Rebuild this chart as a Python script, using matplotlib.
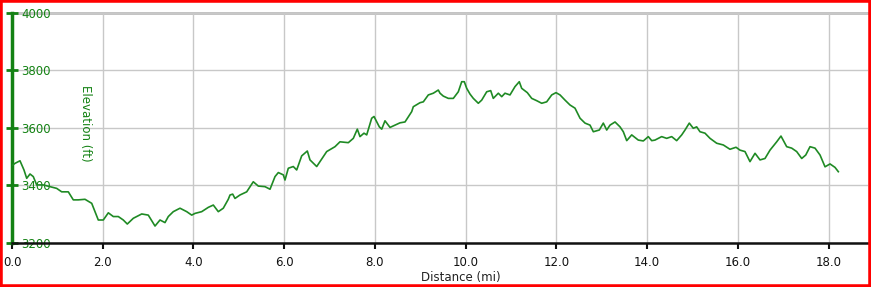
import matplotlib
matplotlib.use("Agg")
import matplotlib.pyplot as plt
from matplotlib.patches import Rectangle

# elevation profile
dist_mi = [0.015, 0.066, 0.176, 0.264, 0.324, 0.397, 0.469, 0.544, 0.690, 0.838, 0.985,
           1.095, 1.241, 1.351, 1.461, 1.609, 1.757, 1.902, 2.012, 2.123, 2.233, 2.343,
           2.453, 2.541, 2.674, 2.859, 3.004, 3.152, 3.262, 3.372, 3.445, 3.555, 3.703,
           3.851, 3.961, 4.034, 4.181, 4.327, 4.437, 4.547, 4.657, 4.767, 4.805, 4.864,
           4.915, 5.025, 5.173, 5.318, 5.429, 5.576, 5.687, 5.797, 5.870, 5.980, 6.017,
           6.090, 6.200, 6.275, 6.385, 6.509, 6.568, 6.716, 6.936, 7.119, 7.229, 7.413,
           7.523, 7.611, 7.670, 7.758, 7.818, 7.928, 7.979, 8.096, 8.149, 8.221, 8.332,
           8.442, 8.552, 8.662, 8.810, 8.845, 8.993, 9.066, 9.176, 9.286, 9.396, 9.434,
           9.506, 9.617, 9.727, 9.837, 9.912, 9.969, 10.022, 10.095, 10.168, 10.278,
           10.353, 10.463, 10.551, 10.608, 10.719, 10.794, 10.866, 10.976, 11.087,
           11.181, 11.234, 11.358, 11.455, 11.565, 11.675, 11.785, 11.896, 11.990,
           12.079, 12.189, 12.299, 12.409, 12.520, 12.630, 12.740, 12.813, 12.945,
           13.033, 13.108, 13.181, 13.291, 13.401, 13.474, 13.549, 13.659, 13.804,
           13.915, 14.025, 14.100, 14.172, 14.319, 14.430, 14.540, 14.650, 14.761,
           14.834, 14.928, 15.016, 15.091, 15.164, 15.274, 15.385, 15.532, 15.678,
           15.825, 15.958, 16.046, 16.156, 16.266, 16.377, 16.487, 16.597, 16.707,
           16.855, 16.949, 17.075, 17.185, 17.295, 17.406, 17.495, 17.589, 17.699,
           17.810, 17.920, 18.030, 18.140, 18.213]
elev_ft = [3471, 3477, 3486, 3454, 3425, 3440, 3431, 3402, 3402, 3396, 3390,
           3378, 3378, 3350, 3350, 3352, 3338, 3280, 3280, 3305, 3292, 3292,
           3280, 3266, 3286, 3301, 3297, 3259, 3280, 3271, 3292, 3309, 3321,
           3309, 3297, 3303, 3309, 3324, 3332, 3309, 3321, 3352, 3367, 3370,
           3355, 3367, 3378, 3413, 3398, 3396, 3387, 3431, 3445, 3437, 3419,
           3460, 3466, 3454, 3503, 3520, 3489, 3466, 3518, 3535, 3552, 3549,
           3564, 3596, 3570, 3582, 3576, 3634, 3640, 3604, 3596, 3625, 3602,
           3610, 3618, 3621, 3657, 3674, 3688, 3691, 3715, 3721, 3732, 3721,
           3711, 3703, 3703, 3726, 3761, 3761, 3738, 3718, 3703, 3686,
           3697, 3726, 3730, 3703, 3721, 3709, 3721, 3715, 3744,
           3761, 3738, 3723, 3703, 3695, 3686, 3691, 3715, 3723,
           3715, 3697, 3680, 3669, 3634, 3617, 3610, 3587, 3593,
           3617, 3593, 3610, 3621, 3604, 3587, 3556, 3576, 3558,
           3555, 3570, 3556, 3558, 3570, 3564, 3570, 3556, 3576,
           3593, 3617, 3599, 3604, 3587, 3582, 3564, 3547, 3541,
           3526, 3533, 3523, 3518, 3483, 3512, 3489, 3494, 3523,
           3552, 3572, 3535, 3530, 3518, 3494, 3506, 3535, 3530,
           3506, 3465, 3475, 3463, 3448]

x_ticks = [0, 2, 4, 6, 8, 10, 12, 14, 16, 18]
y_ticks = [3200, 3400, 3600, 3800, 4000]

W, H = 871, 287
fig = plt.figure(figsize=(W / 100, H / 100), dpi=100)
fig.patch.set_facecolor("white")

green = "#148214"
ax = fig.add_axes([12 / W, 1 - 243 / H, 856 / W, 230 / H])
ax.plot(dist_mi, elev_ft, color="#1f8a24", lw=1.2, zorder=3)

ax.set_xlim(0, 856 / 45.37)
ax.set_ylim(3200, 4000)
ax.set_xticks(x_ticks)
ax.set_xticklabels([f"{v:.1f}" for v in x_ticks])
ax.set_yticks(y_ticks)
ax.set_yticklabels([str(v) for v in y_ticks])
ax.grid(True, color="#c8c8c8", lw=1.0, zorder=0)

for s in ["top", "right"]:
    ax.spines[s].set_visible(False)
ax.spines["left"].set_color(green)
ax.spines["left"].set_linewidth(2.5)
ax.spines["bottom"].set_color("#111111")
ax.spines["bottom"].set_linewidth(1.8)
ax.axhline(4000, color="#bdbdbd", lw=2, zorder=1, clip_on=False)

ax.tick_params(axis="x", direction="out", length=4, width=1.5, colors="#111111",
               labelsize=8.5, pad=5)
ax.tick_params(axis="y", direction="inout", length=9, width=2, color=green,
               labelcolor=green, labelsize=8.5, pad=-11)
for lbl in ax.get_yticklabels():
    lbl.set_horizontalalignment("left")

ax.set_ylabel("Elevation (ft)", color=green, fontsize=8.5, rotation=270)
ax.yaxis.set_label_coords(0.078, 0.52)
ax.set_xlabel("Distance (mi)", color="#222222", fontsize=8.5)
ax.xaxis.set_label_coords((461 - 12) / 856, -0.12)

fig.patches.append(Rectangle((0, 0), 1, 1, transform=fig.transFigure, fill=False,
                             edgecolor="red", lw=4, zorder=10))

fig.savefig("out.png", dpi=100)
